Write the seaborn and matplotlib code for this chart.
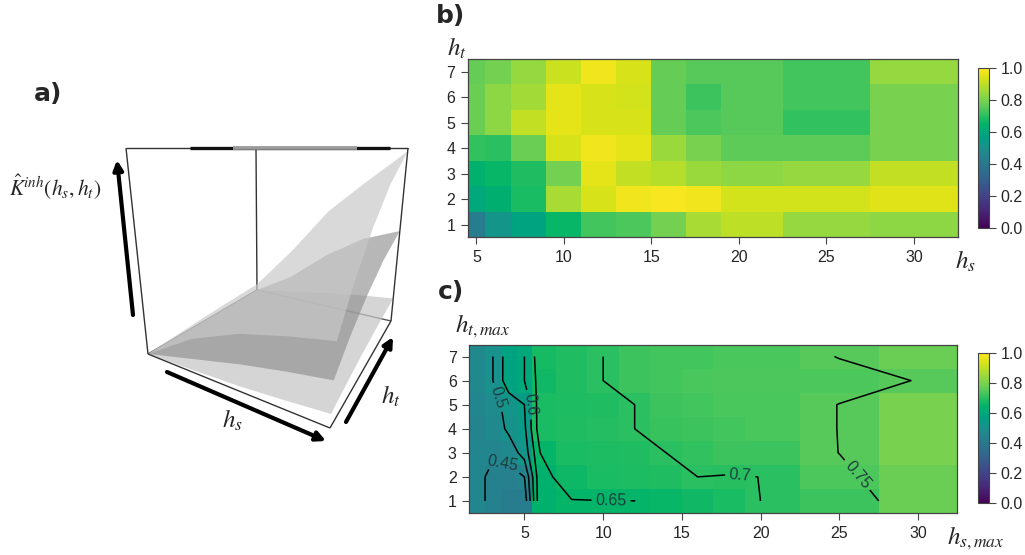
import colorsys
import numpy as np
import pandas as pd
import matplotlib
matplotlib.use("Agg")
import matplotlib.pyplot as plt
import seaborn as sns
from matplotlib.colors import ListedColormap
from matplotlib.patches import Polygon

# ---------------- panel b data : K(hs, ht) ----------------
b_hs = [5, 6, 8, 10, 12, 14, 16, 18, 20, 25, 30]
b_ht = [1, 2, 3, 4, 5, 6, 7]
b_k = [
    [0.42, 0.52, 0.58, 0.66, 0.73, 0.74, 0.79, 0.87, 0.90, 0.84, 0.83],
    [0.60, 0.63, 0.68, 0.87, 0.94, 0.98, 0.99, 0.98, 0.93, 0.93, 0.95],
    [0.64, 0.66, 0.69, 0.79, 0.96, 0.91, 0.89, 0.85, 0.83, 0.84, 0.91],
    [0.71, 0.70, 0.78, 0.94, 0.98, 0.96, 0.85, 0.80, 0.76, 0.76, 0.80],
    [0.78, 0.83, 0.91, 0.96, 0.94, 0.94, 0.77, 0.74, 0.75, 0.71, 0.80],
    [0.78, 0.83, 0.86, 0.96, 0.94, 0.93, 0.77, 0.72, 0.75, 0.73, 0.80],
    [0.77, 0.79, 0.84, 0.92, 0.98, 0.94, 0.77, 0.75, 0.75, 0.73, 0.84],
]

# ---------------- panel c data : K(hs_max, ht_max) ----------------
c_hs = [2, 3, 4, 5, 6, 8, 10, 12, 14, 16, 18, 20, 25, 30]
c_ht = [1, 2, 3, 4, 5, 6, 7]
c_k = [
    [0.46, 0.44, 0.42, 0.42, 0.64, 0.649, 0.6495, 0.6498, 0.66, 0.67, 0.68, 0.7001, 0.72, 0.78],
    [0.46, 0.44, 0.43, 0.45, 0.64, 0.665, 0.68, 0.685, 0.69, 0.700, 0.698, 0.7002, 0.74, 0.78],
    [0.46, 0.455, 0.47, 0.52, 0.65, 0.68, 0.685, 0.69, 0.70, 0.71, 0.72, 0.72, 0.7505, 0.80],
    [0.45, 0.47, 0.51, 0.54, 0.68, 0.69, 0.695, 0.70, 0.715, 0.72, 0.73, 0.735, 0.7505, 0.80],
    [0.46, 0.48, 0.52, 0.55, 0.68, 0.685, 0.69, 0.70, 0.72, 0.73, 0.735, 0.735, 0.7505, 0.80],
    [0.47, 0.50, 0.58, 0.60, 0.67, 0.69, 0.70, 0.72, 0.73, 0.735, 0.74, 0.74, 0.74, 0.751],
    [0.47, 0.50, 0.58, 0.60, 0.678, 0.69, 0.70, 0.72, 0.73, 0.73, 0.735, 0.735, 0.751, 0.78],
]
c_levels = [0.45, 0.5, 0.55, 0.6, 0.65, 0.7, 0.75]
# label anchor for each level (None = unlabeled), in (hs_max, ht_max) units
c_label_at = [(3.6, 2.5), (3.3, 5.3), None, (5.35, 5.0), (10.5, 1.05), (18.7, 2.0), (26.0, 2.0)]

x_ticks = [5, 10, 15, 20, 25, 30]
cbar_ticks = [0.0, 0.2, 0.4, 0.6, 0.8, 1.0]

# ---------------- panel a schematic surfaces (rows ht, cols hs) ----------------
a_grid = [0.0, 0.25, 0.5, 0.75, 1.0]
a_upper = [
    [0, 0.15, 0.235, 0.28, 0.31],
    [0.01, 0.19, 0.32, 0.42, 0.48],
    [0.02, 0.23, 0.41, 0.55, 0.65],
    [0.03, 0.27, 0.50, 0.68, 0.82],
    [0.04, 0.31, 0.60, 0.80, 0.98],
]
a_middle = [
    [0, 0.06, 0.11, 0.145, 0.17],
    [0, 0.08, 0.16, 0.22, 0.26],
    [0, 0.10, 0.21, 0.30, 0.35],
    [0, 0.12, 0.27, 0.38, 0.44],
    [0, 0.14, 0.32, 0.45, 0.52],
]
a_lower = [
    [0, 0.01, 0.02, 0.035, 0.05],
    [0, 0.02, 0.035, 0.05, 0.07],
    [0, 0.025, 0.05, 0.07, 0.09],
    [0, 0.03, 0.065, 0.09, 0.11],
    [0, 0.04, 0.08, 0.11, 0.13],
]

# ---------------- style ----------------
sns.set_style("white")
plt.rcParams['font.family'] = ['Liberation Sans', 'DejaVu Sans']
plt.rcParams['mathtext.fontset'] = 'stix'

# viridis with the mid-range greens rendered a little more saturated (as in the reference)
_pos = np.linspace(0, 1, 256)
_vir = sns.color_palette("viridis", 256)
_cols = []
for p, c in zip(_pos, _vir):
    h, s, v = colorsys.rgb_to_hsv(*c)
    f = 1 + 0.35 * np.exp(-((p - 0.63) / 0.1) ** 2)
    _cols.append(colorsys.hsv_to_rgb(h, min(1.0, s * f), v))
CMAP = ListedColormap(_cols)

W, H = 1025, 555
fig = plt.figure(figsize=(W / 100, H / 100), dpi=100)


def rect(l, t, r, b):
    return [l / W, 1 - b / H, (r - l) / W, (b - t) / H]


def ftext(x, y, s, **kw):
    fig.text(x / W, 1 - y / H, s, ha='center', va='center', **kw)


def edges(c):
    c = np.asarray(c, float)
    mid = (c[:-1] + c[1:]) / 2
    return np.concatenate([[2 * c[0] - mid[0]], mid, [2 * c[-1] - mid[-1]]])


STEP = 0.5
TCOL = '#444444'


def heat(ax, cax, hs, ht, vals):
    vals = np.asarray(vals, float)
    e = edges(hs)
    counts = np.round(np.diff(e) / STEP).astype(int)
    grid = np.repeat(vals, counts, axis=1)
    df = pd.DataFrame(grid, index=ht)
    sns.heatmap(df, ax=ax, cmap=CMAP, vmin=0, vmax=1, cbar_ax=cax,
                xticklabels=False, yticklabels=False, linewidths=0)
    ax.set_ylim(0, len(ht))
    ax.set_xlim(0, grid.shape[1])
    ax.set_xticks([(t - e[0]) / STEP for t in x_ticks])
    ax.set_xticklabels([str(t) for t in x_ticks])
    ax.set_yticks([i + 0.5 for i in range(len(ht))])
    ax.set_yticklabels([str(v) for v in ht], rotation=0)
    ax.set_xlabel('')
    ax.set_ylabel('')
    ax.tick_params(left=True, bottom=True, length=5, width=0.8, color=TCOL,
                   direction='out', labelsize=11.5, pad=4)
    for s in ax.spines.values():
        s.set_visible(True)
        s.set_color(TCOL)
        s.set_linewidth(0.9)
    cb = ax.collections[0].colorbar
    cb.set_ticks(cbar_ticks)
    cb.set_ticklabels([f"{t:.1f}" for t in cbar_ticks])
    cb.outline.set_linewidth(0.8)
    cb.outline.set_edgecolor(TCOL)
    cax.tick_params(right=True, length=5, width=0.8, color=TCOL, direction='out',
                    labelsize=11.5, pad=3)
    return e


# ---------------- panel b ----------------
ax_b = fig.add_axes(rect(467.7, 59, 957.7, 237.3))
cax_b = fig.add_axes(rect(978.3, 68.3, 989.3, 227.7))
heat(ax_b, cax_b, b_hs, b_ht, b_k)

# ---------------- panel c ----------------
ax_c = fig.add_axes(rect(469.3, 344.5, 957.5, 513))
cax_c = fig.add_axes(rect(978.3, 353.3, 989.3, 503.3))
ec = heat(ax_c, cax_c, c_hs, c_ht, c_k)
Xc = (np.asarray(c_hs, float) - ec[0]) / STEP
Yc = np.arange(len(c_ht)) + 0.5
Zc = np.asarray(c_k)
for lev, at in zip(c_levels, c_label_at):
    cs = ax_c.contour(Xc, Yc, Zc, levels=[lev], colors='black', linewidths=1.1)
    if at is not None:
        ax_c.clabel(cs, manual=[((at[0] - ec[0]) / STEP, at[1] - 0.5)],
                    inline=True, inline_spacing=4, fontsize=11.5, colors='#1f3d3d',
                    fmt=lambda v: f"{v:g}")

# panel labels / axis titles
ftext(451, 16, 'b)', fontsize=18, fontweight='bold', family='DejaVu Sans')
ftext(451, 292, 'c)', fontsize=18, fontweight='bold', family='DejaVu Sans')
ftext(457, 48, r'$h_t$', fontsize=18)
ftext(965, 261, r'$h_s$', fontsize=18)
ftext(483, 326, r'$h_{t,max}$', fontsize=18)
ftext(976, 538, r'$h_{s,max}$', fontsize=18)

# ---------------- panel a (schematic perspective view) ----------------
ax_a = fig.add_axes([0, 0, 430 / W, 1])
ax_a.set_xlim(0, 430)
ax_a.set_ylim(H, 0)
ax_a.axis('off')

BASE = {(0, 0): (148, 354), (1, 0): (330, 428), (1, 1): (391, 321), (0, 1): (257, 290)}
TOP = {(0, 0): (126, 148), (1, 0): (352, 148), (1, 1): (408, 148), (0, 1): (256, 148)}


def bil(d, u, v):
    p00, p10, p11, p01 = (np.array(d[k], float) for k in [(0, 0), (1, 0), (1, 1), (0, 1)])
    return (1 - u) * (1 - v) * p00 + u * (1 - v) * p10 + u * v * p11 + (1 - u) * v * p01


def proj(u, v, w):
    b = bil(BASE, u, v)
    t = bil(TOP, u, v)
    return b + w * (t - b)


def seg(p, q, **kw):
    ax_a.plot([p[0], q[0]], [p[1], q[1]], solid_capstyle='butt', **kw)


def along(p, q, t):
    return np.asarray(p) + t * (np.asarray(q) - np.asarray(p))


# back box edges (seen through the translucent surfaces)
seg(proj(0, 1, 0), proj(0, 1, 1), color='#333333', lw=1.0, zorder=1)
seg(proj(1, 1, 0), proj(0, 1, 0), color='#555555', lw=1.0, zorder=1)
seg(proj(0, 0, 0), proj(0, 1, 0), color='#555555', lw=1.0, zorder=1)
# top face (seen edge-on)
t0, t1 = proj(0, 0, 1), proj(1, 1, 1)
seg(t0, t1, color='#333333', lw=1.0, zorder=1)
seg(along(t0, t1, 0.227), along(t0, t1, 0.936), color='#111111', lw=2.4, zorder=1)
seg(along(t0, t1, 0.38), along(t0, t1, 0.82), color='#9a9a9a', lw=2.6, zorder=1)


def surface(z, color, alpha, zo):
    z = np.asarray(z, float)
    n = len(a_grid)
    idx = ([(i, 0) for i in range(n)] + [(n - 1, j) for j in range(1, n)] +
           [(i, n - 1) for i in range(n - 2, -1, -1)] + [(0, j) for j in range(n - 2, 0, -1)])
    pts = [proj(a_grid[i], a_grid[j], z[j, i]) for i, j in idx]
    ax_a.add_patch(Polygon(pts, closed=True, facecolor=color, edgecolor='none',
                           alpha=alpha, zorder=zo))


surface(a_lower, '#c6c6c6', 0.72, 2)
surface(a_middle, '#8c8c8c', 0.62, 3)
surface(a_upper, '#c8c8c8', 0.68, 4)

# visible box edges
seg(proj(0, 0, 0), proj(0, 0, 1), color='#333333', lw=1.0, zorder=5)
seg(proj(1, 1, 0), proj(1, 1, 1), color='#333333', lw=1.0, zorder=5)
seg(proj(0, 0, 0), proj(1, 0, 0), color='#333333', lw=1.0, zorder=5)
seg(proj(1, 0, 0), proj(1, 1, 0), color='#333333', lw=1.0, zorder=5)

arrow = dict(arrowstyle='-|>', lw=3, color='black', mutation_scale=14, shrinkA=0, shrinkB=0)
ax_a.annotate('', xy=(117, 160), xytext=(133, 315), arrowprops=arrow, zorder=6)
ax_a.annotate('', xy=(326, 441), xytext=(167, 372), arrowprops=arrow, zorder=6)
ax_a.annotate('', xy=(393, 337), xytext=(346, 422), arrowprops=arrow, zorder=6)

ax_a.text(55, 187, r'$\hat{K}^{inh}(h_s,h_t)$', fontsize=15.5, ha='center', va='center')
ax_a.text(232, 420, r'$h_s$', fontsize=18, ha='center', va='center')
ax_a.text(391, 396, r'$h_t$', fontsize=18, ha='center', va='center')
ax_a.text(48, 94, 'a)', fontsize=18, fontweight='bold', family='DejaVu Sans',
          ha='center', va='center')

fig.savefig('out.png', dpi=100)
